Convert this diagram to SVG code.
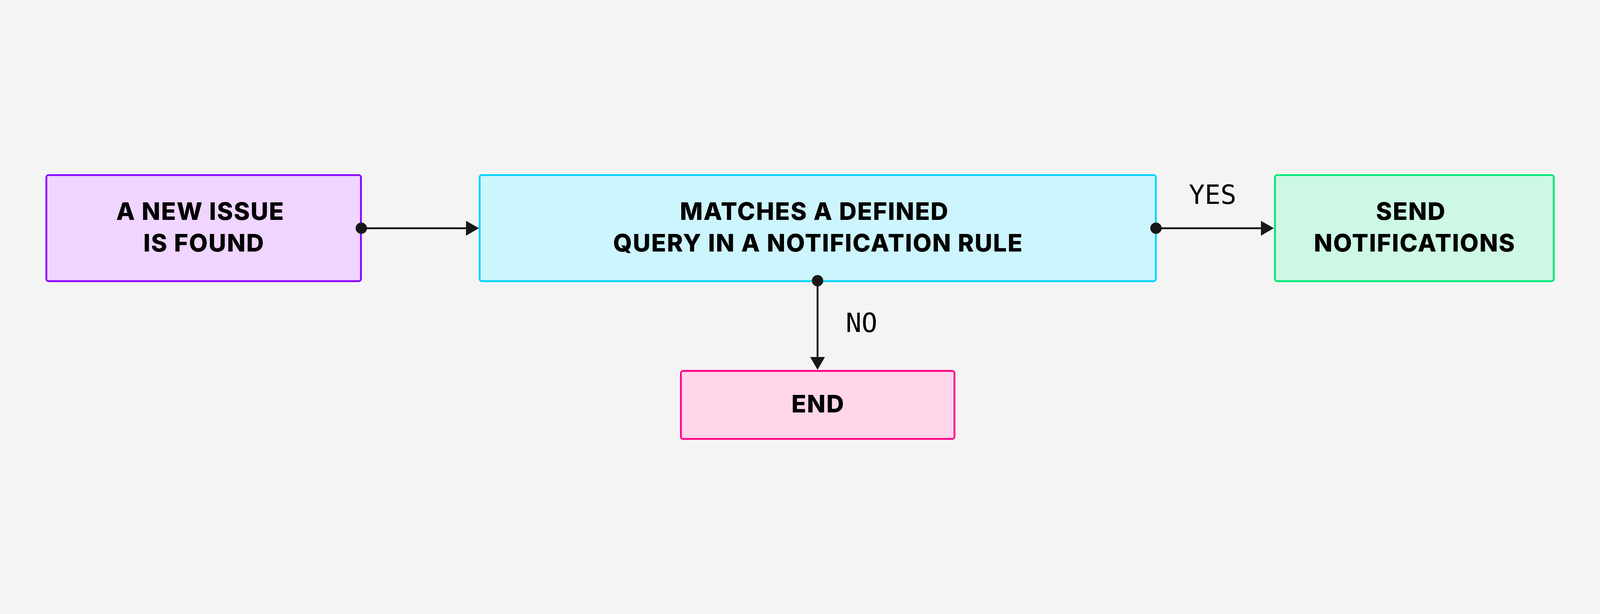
<svg xmlns="http://www.w3.org/2000/svg" width="7059" height="1572" viewBox="0 0 7059 1572" style="max-width:100vw;max-height:100vh;background:#f4f4f4">
  <style>
    .node { stroke-width: 8; }
    .title { font-family: Inter, "Liberation Sans", Arial, sans-serif; font-weight: 800; font-size: 107px; letter-spacing: 3.5px; fill: #000000; text-anchor: middle; }
    .edge-label { font-family: "DejaVu Sans Mono", "Liberation Mono", monospace; font-weight: 400; font-size: 116px; fill: #000000; text-anchor: middle; }
    .edge { stroke: #171717; stroke-width: 8; fill: none; }
  </style>
  <defs>
    <marker id="arrow" markerUnits="userSpaceOnUse" markerWidth="58" markerHeight="66" viewBox="0 0 58 66" refX="0" refY="33" orient="auto">
      <path d="M0,0 L57,33 L0,66 Z" fill="#171717"/>
    </marker>
    <marker id="dot" markerUnits="userSpaceOnUse" markerWidth="52" markerHeight="52" viewBox="0 0 52 52" refX="26" refY="26" orient="auto">
      <circle cx="26" cy="26" r="25" fill="#171717"/>
    </marker>
  </defs>
  <rect width="7059" height="1572" fill="#f4f4f4"/>

  <g id="node-new-issue">
    <rect class="node" x="204.5" y="204" width="1388" height="468" rx="10" fill="#efd5ff" stroke="#8800ff"/>
    <text class="title" x="884" y="402">A NEW ISSUE</text>
    <text class="title" x="900" y="542">IS FOUND</text>
  </g>

  <g id="node-matches">
    <rect class="node" x="2116" y="204" width="2983.5" height="468" rx="10" fill="#ccf5fd" stroke="#00d2ff"/>
    <text class="title" x="3593" y="402">MATCHES A DEFINED</text>
    <text class="title" x="3609.5" y="542">QUERY IN A NOTIFICATION RULE</text>
  </g>

  <g id="node-send">
    <rect class="node" x="5625" y="204" width="1230" height="468" rx="10" fill="#ccf8e4" stroke="#00e676"/>
    <text class="title" x="6225" y="402">SEND</text>
    <text class="title" x="6241.5" y="542">NOTIFICATIONS</text>
  </g>

  <g id="node-end">
    <rect class="node" x="3004" y="1068" width="1207" height="300" rx="10" fill="#ffd6ea" stroke="#ff0087"/>
    <text class="title" x="3609" y="1252">END</text>
  </g>

  <g id="connectors">
    <line class="edge" x1="1594" y1="438.5" x2="2056" y2="438.5" marker-start="url(#dot)" marker-end="url(#arrow)"/>
    <line class="edge" x1="5100" y1="438.5" x2="5563" y2="438.5" marker-start="url(#dot)" marker-end="url(#arrow)"/>
    <line class="edge" x1="3607" y1="670" x2="3607" y2="1006" marker-start="url(#dot)" marker-end="url(#arrow)"/>
    <text class="edge-label" x="5350" y="331">YES</text>
    <text class="edge-label" x="3801" y="896">NO</text>
  </g>
</svg>
